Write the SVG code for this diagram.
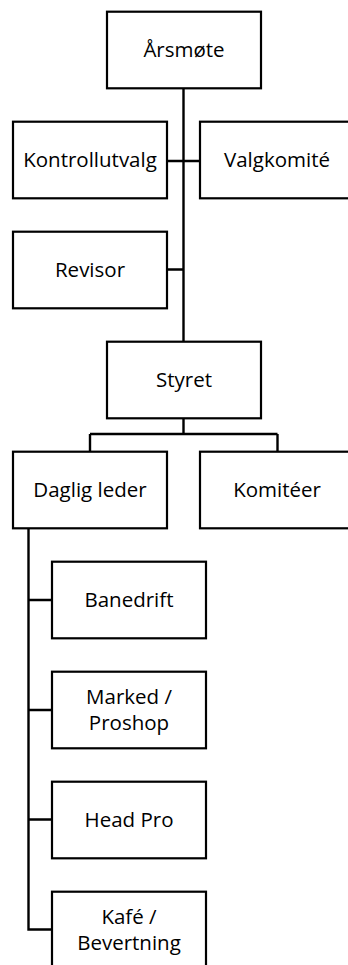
<svg xmlns="http://www.w3.org/2000/svg" width="348" height="965" viewBox="0 0 348 965">
<style>
.box{fill:#fff;stroke:#000;stroke-width:2.2}
.t{font-family:"Open Sans","Liberation Sans",sans-serif;font-size:20.5px;fill:#000;text-anchor:middle}
.c{fill:none;stroke:#000;stroke-width:2.4}
</style>
<rect width="348" height="965" fill="#fff"/>
<g id="connectors">
<path class="c" d="M183.5 89 V342 M167 161 H200 M167 269.5 H183.5 M183.5 419 V434 M90 434 H277.5 M90 434 V452 M277.5 434 V452 M28.5 529 V929.5 H52 M28.5 600 H52 M28.5 710 H52 M28.5 819.5 H52"/>
</g>
<g id="aarsmote"><rect class="box" x="107" y="11.7" width="154" height="76.6"/><text class="t" x="184" y="57">Årsmøte</text></g>
<g id="kontrollutvalg"><rect class="box" x="13" y="121.7" width="154" height="76.6"/><text class="t" x="90" y="167">Kontrollutvalg</text></g>
<g id="valgkomite"><rect class="box" x="200" y="121.7" width="154" height="76.6"/><text class="t" x="277" y="167">Valgkomité</text></g>
<g id="revisor"><rect class="box" x="13" y="231.7" width="154" height="76.6"/><text class="t" x="90" y="277">Revisor</text></g>
<g id="styret"><rect class="box" x="107" y="341.7" width="154" height="76.6"/><text class="t" x="184" y="387">Styret</text></g>
<g id="dagligleder"><rect class="box" x="13" y="451.7" width="154" height="76.6"/><text class="t" x="90" y="497">Daglig leder</text></g>
<g id="komiteer"><rect class="box" x="200" y="451.7" width="154" height="76.6"/><text class="t" x="277" y="497">Komitéer</text></g>
<g id="banedrift"><rect class="box" x="52" y="561.7" width="154" height="76.6"/><text class="t" x="129" y="607">Banedrift</text></g>
<g id="marked"><rect class="box" x="52" y="671.7" width="154" height="76.6"/><text class="t" x="129" y="703.5">Marked /</text><text class="t" x="129" y="729.5">Proshop</text></g>
<g id="headpro"><rect class="box" x="52" y="781.7" width="154" height="76.6"/><text class="t" x="129" y="827">Head Pro</text></g>
<g id="kafe"><rect class="box" x="52" y="891.7" width="154" height="76.6"/><text class="t" x="129" y="923.5">Kafé /</text><text class="t" x="129" y="949.5">Bevertning</text></g>
</svg>
